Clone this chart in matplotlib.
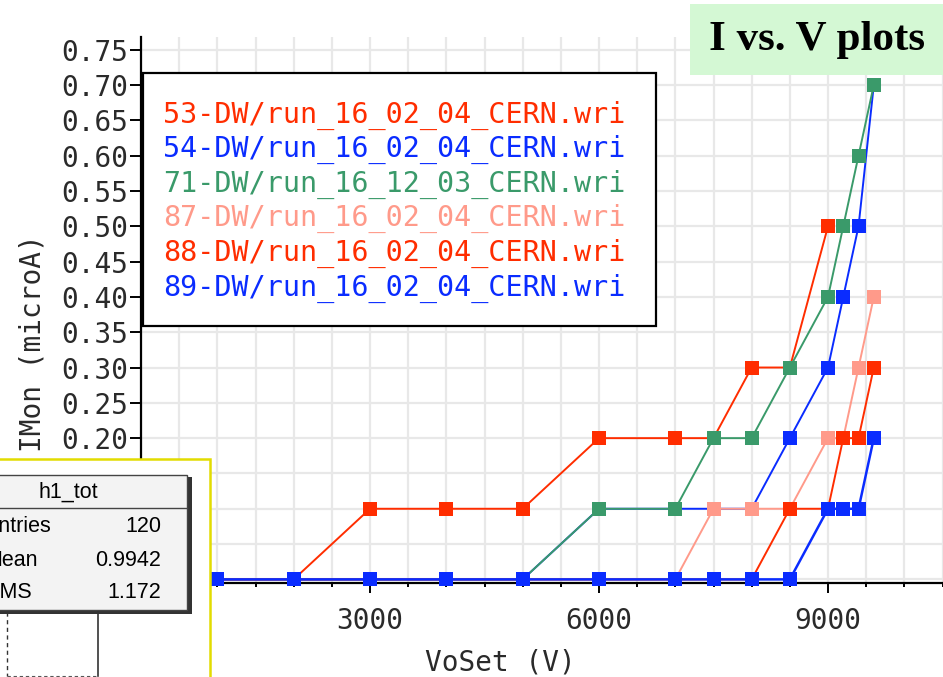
import matplotlib
matplotlib.use("Agg")
import matplotlib.pyplot as plt
from matplotlib.patches import Rectangle
from matplotlib.ticker import MultipleLocator, FixedLocator, FuncFormatter

# ---------------- data ----------------
volts_53 = [1000, 2000, 3000, 4000, 5000, 6000, 7000, 7500, 8000, 8500, 9000]
imon_53 = [0.0, 0.0, 0.1, 0.1, 0.1, 0.2, 0.2, 0.2, 0.3, 0.3, 0.5]

volts_54 = [1000, 2000, 3000, 4000, 5000, 6000, 7000, 7500, 8000, 8500, 9000, 9200, 9400, 9600]
imon_54 = [0.0, 0.0, 0.0, 0.0, 0.0, 0.1, 0.1, 0.1, 0.1, 0.2, 0.3, 0.4, 0.5, 0.7]

volts_71 = [1000, 2000, 3000, 4000, 5000, 6000, 7000, 7500, 8000, 8500, 9000, 9200, 9400, 9600]
imon_71 = [0.0, 0.0, 0.0, 0.0, 0.0, 0.1, 0.1, 0.2, 0.2, 0.3, 0.4, 0.5, 0.6, 0.7]

volts_87 = [1000, 2000, 3000, 4000, 5000, 6000, 7000, 7500, 8000, 8500, 9000, 9200, 9400, 9600]
imon_87 = [0.0, 0.0, 0.0, 0.0, 0.0, 0.0, 0.0, 0.1, 0.1, 0.1, 0.2, 0.2, 0.3, 0.4]

volts_88 = [1000, 2000, 3000, 4000, 5000, 6000, 7000, 7500, 8000, 8500, 9000, 9200, 9400, 9600]
imon_88 = [0.0, 0.0, 0.0, 0.0, 0.0, 0.0, 0.0, 0.0, 0.0, 0.1, 0.1, 0.2, 0.2, 0.3]

volts_89 = [1000, 2000, 3000, 4000, 5000, 6000, 7000, 7500, 8000, 8500, 9000, 9200, 9400, 9600]
imon_89 = [0.0, 0.0, 0.0, 0.0, 0.0, 0.0, 0.0, 0.0, 0.0, 0.0, 0.1, 0.1, 0.1, 0.2]

series_labels = [
    "53-DW/run_16_02_04_CERN.wri",
    "54-DW/run_16_02_04_CERN.wri",
    "71-DW/run_16_12_03_CERN.wri",
    "87-DW/run_16_02_04_CERN.wri",
    "88-DW/run_16_02_04_CERN.wri",
    "89-DW/run_16_02_04_CERN.wri",
]
series_colors = ["#ff2d00", "#0a2cff", "#3a9a6a", "#ff9a8a", "#ff2d00", "#0a2cff"]
series_x = [volts_53, volts_54, volts_71, volts_87, volts_88, volts_89]
series_y = [imon_53, imon_54, imon_71, imon_87, imon_88, imon_89]

y_ticks = [0.00, 0.05, 0.10, 0.15, 0.20, 0.25, 0.30, 0.35, 0.40, 0.45, 0.50, 0.55, 0.60, 0.65, 0.70, 0.75]
y_label_min = 0.20   # lower labels are hidden behind the stats panel
x_major = [3000, 6000, 9000]

stats_title = "h1_tot"
stats_names = ["Entries", "Mean", "RMS"]
stats_values = ["120", "0.9942", "1.172"]
title_text = "I vs. V plots"

# ---------------- figure ----------------
W, H = 943, 677
fig = plt.figure(figsize=(W / 100, H / 100), dpi=100)
fig.patch.set_facecolor("white")

mono = "DejaVu Sans Mono"
txtcol = "#2a2a2a"

ax_l, ax_r, ax_t, ax_b = 141, 942.5, 37, 582.5
ax = fig.add_axes([ax_l / W, (H - ax_b) / H, (ax_r - ax_l) / W, (ax_b - ax_t) / H])
ax.set_xlim(0, 10500)
ax.set_ylim(-0.0044, 0.768)

for sp in ["top", "right"]:
    ax.spines[sp].set_visible(False)
for sp in ["left", "bottom"]:
    ax.spines[sp].set_linewidth(1.6)
    ax.spines[sp].set_color("black")

ax.xaxis.set_major_locator(FixedLocator(x_major))
ax.xaxis.set_minor_locator(MultipleLocator(500))
ax.yaxis.set_major_locator(FixedLocator(y_ticks))
ax.yaxis.set_major_formatter(
    FuncFormatter(lambda v, p: f"{v:.2f}" if v >= y_label_min - 1e-9 else ""))

ax.grid(True, which="both", axis="x", color="#e8e8e8", lw=1.6, zorder=0)
ax.grid(True, which="major", axis="y", color="#e8e8e8", lw=1.6, zorder=0)
ax.set_axisbelow(True)

ax.tick_params(axis="y", direction="out", length=8, width=1.4, pad=1.5,
               labelsize=20, labelcolor=txtcol, color="black")
ax.tick_params(axis="x", which="major", direction="out", length=7.5, width=1.4,
               pad=10, labelsize=20, labelcolor=txtcol, color="black")
ax.tick_params(axis="x", which="minor", direction="out", length=3, width=1.4, color="black")
for lab in ax.get_xticklabels() + ax.get_yticklabels():
    lab.set_fontfamily(mono)

for k, (xs, ys, c) in enumerate(zip(series_x, series_y, series_colors)):
    ax.plot(xs, ys, color=c, lw=1.8 if k == 5 else 1.4, marker="s", markersize=10,
            markeredgewidth=0, zorder=3 + k * 0.01, clip_on=False)

ax.set_xlabel("VoSet (V)", fontsize=20, fontfamily=mono, color=txtcol)
ax.xaxis.set_label_coords((500 - ax_l) / (ax_r - ax_l), (ax_b - 662) / (ax_b - ax_t))
ax.xaxis.label.set_va("center")
ax.set_ylabel("IMon (microA)", fontsize=20, fontfamily=mono, color=txtcol)
ax.yaxis.set_label_coords((32 - ax_l) / (ax_r - ax_l), (ax_b - 343) / (ax_b - ax_t))
ax.yaxis.label.set_va("center")
ax.yaxis.label.set_ha("center")

# ---------------- overlay in pixel coordinates ----------------
ov = fig.add_axes([0, 0, 1, 1], zorder=10)
ov.set_xlim(0, W)
ov.set_ylim(H, 0)
ov.axis("off")
ov.patch.set_alpha(0)

# legend box
ov.add_patch(Rectangle((143, 73), 656 - 143, 326 - 73, facecolor="white",
                       edgecolor="black", lw=1.6))
for i, (lab, c) in enumerate(zip(series_labels, series_colors)):
    ov.text(163, 115 + i * 34.6, lab, color=c, fontsize=20.4, fontfamily=mono,
            ha="left", va="center")

# title box
ov.add_patch(Rectangle((690, 4), W - 690 + 5, 75 - 4, facecolor="#d4f8d4",
                       edgecolor="none"))
ov.text(817, 40, title_text, fontsize=31, fontfamily="Liberation Serif",
        fontweight="bold", color="black", ha="center", va="center")

# stats panel (yellow bordered)
ov.add_patch(Rectangle((-5, 458.5), 210 + 5, H - 458.5 + 5, facecolor="white",
                       edgecolor="#e2dc00", lw=1.8))
# histogram remnants below stats box
ov.plot([7, 7], [612, 676], color="#333333", lw=1.0, ls=(0, (3, 2.5)))
ov.plot([7, 98], [676, 676], color="#555555", lw=0.8, ls=(0, (3, 2.5)))
ov.plot([98, 98], [612, 676], color="#333333", lw=1.2)
# stats box shadow + box
ov.add_patch(Rectangle((-5, 477), 192 + 5, 612 - 475, facecolor="#333333",
                       edgecolor="none"))
ov.add_patch(Rectangle((-5, 475), 192, 612 - 475 - 2, facecolor="#f3f3f3",
                       edgecolor="#444444", lw=1.0))
ov.plot([-5, 187], [508, 508], color="#444444", lw=1.0)
ov.text(68, 492, stats_title, fontsize=15.5, fontfamily="Liberation Sans",
        color="black", ha="center", va="center")
for i, (nm, vl) in enumerate(zip(stats_names, stats_values)):
    yy = [526, 561, 593][i]
    ov.text(-16, yy, nm, fontsize=15.5, fontfamily="Liberation Sans",
            color="black", ha="left", va="center")
    ov.text(161, yy, vl, fontsize=15.5, fontfamily="Liberation Sans",
            color="black", ha="right", va="center")

fig.savefig("out.png", dpi=100, facecolor="white")
